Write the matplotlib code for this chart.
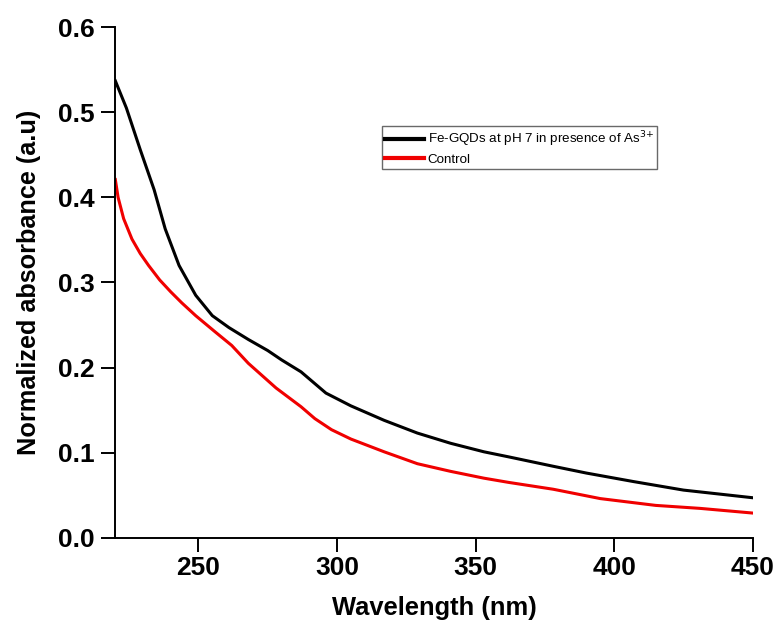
import matplotlib
matplotlib.use("Agg")
from matplotlib import pyplot as plt

# values
wl_fe = [220, 224, 229, 234, 238, 243, 249, 255, 261, 268, 275, 280, 287, 296,
         305, 317, 329, 341, 353, 362, 378, 390, 407, 425, 450]
abs_fe = [0.537, 0.505, 0.456, 0.409, 0.363, 0.320, 0.285, 0.261, 0.247, 0.233,
          0.220, 0.209, 0.195, 0.170, 0.155, 0.138, 0.123, 0.111, 0.101, 0.095,
          0.084, 0.076, 0.066, 0.056, 0.047]

wl_ctrl = [220, 221, 223, 226, 229, 232, 236, 240, 244, 249, 256, 262, 268, 278,
           287, 292, 298, 305, 317, 329, 341, 353, 362, 378, 395, 415, 431, 450]
abs_ctrl = [0.421, 0.400, 0.375, 0.351, 0.334, 0.320, 0.303, 0.289, 0.276, 0.261,
            0.242, 0.226, 0.205, 0.176, 0.154, 0.140, 0.127, 0.116, 0.101, 0.087,
            0.078, 0.070, 0.065, 0.057, 0.046, 0.038, 0.0345, 0.029]

xticks = [250, 300, 350, 400, 450]
yticks = [0.0, 0.1, 0.2, 0.3, 0.4, 0.5, 0.6]

plt.rcParams['font.family'] = ['Liberation Sans', 'DejaVu Sans']

fig = plt.figure(figsize=(7.74, 6.26), dpi=100)
ax = fig.add_axes([0.149, 0.141, 0.8235, 0.8155])

ax.plot(wl_fe, abs_fe, color='black', linewidth=2.2,
        label=r"Fe-GQDs at pH 7 in presence of As$^{3\!+}$")
ax.plot(wl_ctrl, abs_ctrl, color='#f00000', linewidth=2.2, label="Control")

ax.set_xlim(220, 450)
ax.set_ylim(0, 0.6)
ax.set_xticks(xticks)
ax.set_yticks(yticks)
ax.set_yticklabels(["%.1f" % v for v in yticks])

ax.spines['top'].set_visible(False)
ax.spines['right'].set_visible(False)
for s in ['left', 'bottom']:
    ax.spines[s].set_linewidth(1.4)
ax.tick_params(direction='out', length=10, width=1.4, labelsize=19)
ax.tick_params(axis='x', pad=3)
ax.tick_params(axis='y', pad=5)
for lab in ax.get_xticklabels() + ax.get_yticklabels():
    lab.set_fontweight('bold')

ax.set_xlabel("Wavelength (nm)", fontsize=18.4, fontweight='bold', labelpad=12)
ax.set_ylabel("Normalized absorbance (a.u)", fontsize=18.2, fontweight='bold', labelpad=12)

leg = ax.legend(loc='upper left', bbox_to_anchor=(0.4177, 0.8065), fontsize=9.6,
                frameon=True, fancybox=False, handlelength=2.9, handletextpad=0.3,
                borderpad=0.25, labelspacing=0.35, borderaxespad=0)
leg.get_frame().set_edgecolor('#444444')
leg.get_frame().set_linewidth(1.0)
for line in leg.get_lines():
    line.set_linewidth(3)

fig.savefig("out.png", dpi=100)
